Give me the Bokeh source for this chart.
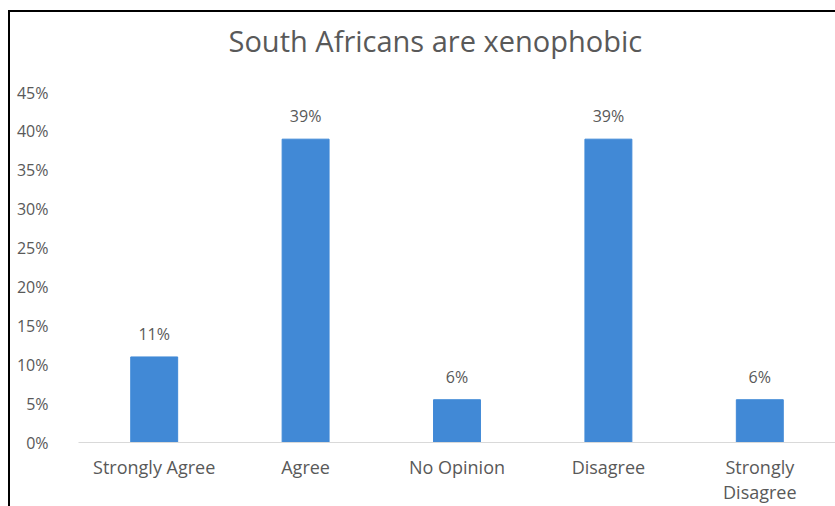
from bokeh.plotting import figure
from bokeh.models import ColumnDataSource, FixedTicker, PrintfTickFormatter, LabelSet, Title
from bokeh.core.properties import value
from bokeh.embed import file_html
from bokeh.resources import INLINE

categories = ["Strongly Agree", "Agree", "No Opinion", "Disagree", "Strongly Disagree"]
values = [11, 39, 5.5, 39, 5.5]
labels = [f"{round(v):d}%" for v in values]
y_ticks = [0, 5, 10, 15, 20, 25, 30, 35, 40, 45]

# wrap the long category name onto two lines, as in the original
factors = [c.replace(" ", "\n") if len(c) > 15 else c for c in categories]

src = ColumnDataSource(dict(cat=factors, val=values, lab=labels))

FONT = "Open Sans"
GREY = "#595959"

p = figure(x_range=factors, y_range=(0, 45), width=835, height=506,
           output_backend="svg", toolbar_location=None,
           min_border_left=78, min_border_right=0, min_border_top=92, min_border_bottom=60)
# transparent canvas; the thin black frame along the top and left edge of the
# original screenshot is painted as the element's CSS background
p.border_fill_color = None
p.background_fill_color = None
p.styles = {
    "background-color": "white",
    "background-image": "linear-gradient(black, black), linear-gradient(black, black)",
    "background-size": "2px 496px, 827px 2px",
    "background-position": "8px 10px, 8px 10px",
    "background-repeat": "no-repeat",
}

# spacing between the title and the plot area
p.add_layout(Title(text=" ", standoff=0, text_font=FONT, text_font_size="19px"), "above")

p.title.text = "South Africans are xenophobic"
p.title.align = "left"
p.title.offset = 150
p.title.standoff = 10
p.title.text_font = FONT
p.title.text_font_size = "29px"
p.title.text_font_style = "normal"
p.title.text_color = GREY

p.vbar(x="cat", top="val", width=0.31, source=src, color="#4189d6")

p.add_layout(LabelSet(x="cat", y="val", text="lab", source=src, y_offset=12,
                      text_align="center", text_baseline="bottom",
                      text_font=value(FONT), text_font_size=value("16px"),
                      text_color=GREY))

p.outline_line_color = None
p.xgrid.grid_line_color = None
p.ygrid.grid_line_color = None

p.yaxis.ticker = FixedTicker(ticks=y_ticks)
p.yaxis.formatter = PrintfTickFormatter(format="%d%%")
p.yaxis.axis_line_color = None
p.yaxis.major_tick_line_color = None
p.yaxis.minor_tick_line_color = None
p.yaxis.major_label_standoff = 24
p.yaxis.major_label_text_font = FONT
p.yaxis.major_label_text_font_size = "16px"
p.yaxis.major_label_text_color = GREY

p.xaxis.axis_line_color = "#d9d9d9"
p.xaxis.major_tick_line_color = None
p.xaxis.major_label_standoff = 6
p.xaxis.major_label_text_font = FONT
p.xaxis.major_label_text_font_size = "18px"
p.xaxis.major_label_text_line_height = 1.05
p.xaxis.major_label_text_color = GREY

open("out.html", "w").write(file_html(p, INLINE))
